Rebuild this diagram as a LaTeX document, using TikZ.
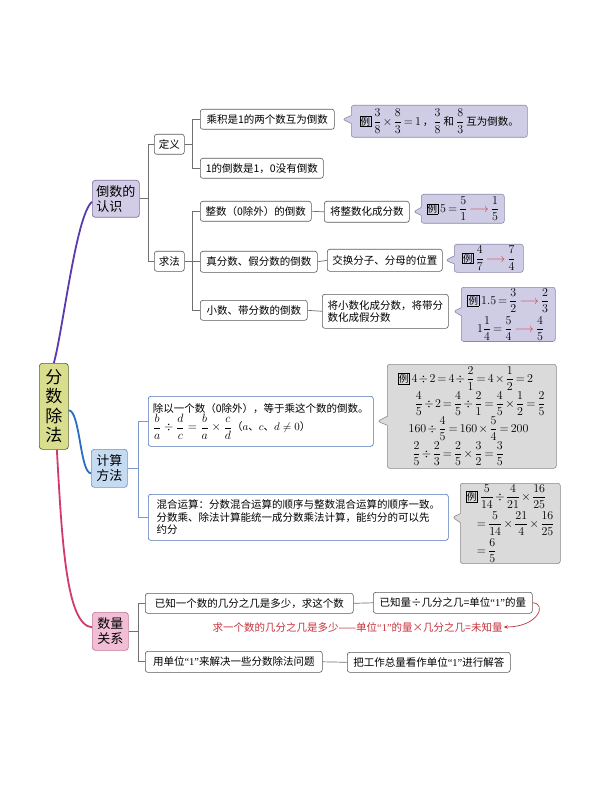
\documentclass[tikz,border=0pt]{standalone}
\usepackage{amsmath}
\usepackage{fontspec}
\setmainfont{Noto Sans CJK SC}
\newfontfamily\latinq{Liberation Serif}
\usetikzlibrary{shapes.callouts,arrows.meta}
\definecolor{mainfill}{HTML}{D8DE8E}
\definecolor{mainbd}{HTML}{5E6330}
\definecolor{dyfill}{HTML}{D2CCE6}
\definecolor{dybd}{HTML}{7E7498}
\definecolor{jsfill}{HTML}{C5DBF2}
\definecolor{jsbd}{HTML}{6B94C8}
\definecolor{slfill}{HTML}{F2BED6}
\definecolor{slbd}{HTML}{C27A98}
\definecolor{bx}{HTML}{5A5A5A}
\definecolor{bluebx}{HTML}{4D6FB8}
\definecolor{calL}{HTML}{CFCCE5}
\definecolor{calLbd}{HTML}{8C88A8}
\definecolor{calG}{HTML}{DADADA}
\definecolor{calGbd}{HTML}{8A8A8A}
\definecolor{purp}{HTML}{5A3AAE}
\definecolor{bluec}{HTML}{2B6CC4}
\definecolor{crim}{HTML}{D23A6E}
\definecolor{redt}{HTML}{C8323C}
\definecolor{arrred}{HTML}{E03030}
\definecolor{linegray}{HTML}{707070}
\definecolor{lineblue}{HTML}{7C98C8}
\newcommand{\lizi}{{\setlength{\fboxsep}{0.6pt}\setlength{\fboxrule}{0.5pt}\fbox{\fontsize{9.5}{9.5}\selectfont 例}}}
\newcommand{\rarr}{{\color{arrred}\longrightarrow}}
\newcommand{\qone}{{\latinq “1”}}
\newcommand{\cjks}{\fontsize{10.5}{12}\selectfont}
\newcommand{\tightmath}{\medmuskip=2mu\relax\thickmuskip=3mu\relax}
\newcommand{\calfont}{\fontsize{12}{14}\selectfont\tightmath}
\tikzset{
  base/.style={anchor=north west, rounded corners=2.5pt, line width=0.6pt, inner sep=1pt, align=center, font=\fontsize{10.5}{12.5}\selectfont},
  wbox/.style={base, draw=bx, fill=white},
  bbox/.style={base, draw=bluebx, fill=white, align=left, inner xsep=3pt},
  topic/.style={anchor=north west, rounded corners=3pt, line width=0.7pt, align=left, inner sep=2pt, font=\fontsize{13}{15}\selectfont},
  callL/.style={base, rectangle callout, draw=calLbd, fill=calL, callout pointer width=8pt, font=\calfont},
  callG/.style={base, rectangle callout, draw=calGbd, fill=calG, callout pointer width=9pt, font=\calfont},
  conn/.style={draw=linegray, line width=0.7pt},
  connb/.style={draw=lineblue, line width=0.7pt},
  branch/.style={line width=1.8pt},
}
\begin{document}
\begin{tikzpicture}[x=1pt,y=-1pt]
\fill[white] (0,0) rectangle (600,791);
\useasboundingbox (0,0) rectangle (600,791);

% main and topics
\node[topic, draw=mainbd, fill=mainfill, minimum width=29, minimum height=86, align=center, font=\fontsize{17}{19.5}\selectfont] (main) at (39,363) {分\\数\\除\\法};
\node[topic, draw=dybd, fill=dyfill, minimum width=47, minimum height=37] (dy) at (92,180) {倒数的\\认识};
\node[topic, draw=jsbd, fill=jsfill, minimum width=36, minimum height=38] (js) at (91,449) {计算\\方法};
\node[topic, draw=slbd, fill=slfill, minimum width=36, minimum height=38] (sl) at (92,612) {数量\\关系};

\draw[branch, purp] (main.north) .. controls (63,330) and (76,215) .. ([yshift=-3pt]dy.west);
\draw[branch, bluec] ([yshift=-4pt]main.east) .. controls (80,410) and (80,473) .. ([yshift=-5pt]js.west);
\draw[branch, crim] ([xshift=3pt]main.south) .. controls (62,540) and (66,625) .. ([yshift=4pt]sl.west);

% 倒数的认识
\node[wbox, minimum width=30, minimum height=20] (dingyi) at (154,134) {定义};
\node[wbox, minimum width=30, minimum height=20] (qiufa) at (154,251) {求法};
\node[wbox, minimum width=134, minimum height=20] (a1) at (200,109) {乘积是1的两个数互为倒数};
\node[wbox, minimum width=123, minimum height=20] (a2) at (200,158) {1的倒数是1，0没有倒数};
\node[wbox, minimum width=111, minimum height=20] (b1) at (200,201) {整数（0除外）的倒数};
\node[wbox, minimum width=117, minimum height=21] (b2) at (200,251) {真分数、假分数的倒数};
\node[wbox, minimum width=107, minimum height=20] (b3) at (200,300) {小数、带分数的倒数};
\node[wbox, minimum width=85, minimum height=21] (c1) at (324,201) {将整数化成分数};
\node[wbox, minimum width=115, minimum height=22] (c2) at (327,249) {交换分子、分母的位置};
\node[wbox, minimum width=126, minimum height=34, align=left] (c3) at (322,294) {将小数化成分数，将带分\\数化成假分数};

\draw[conn] (dy.east) -- ++(9,0) coordinate (j1) |- (dingyi.west);
\draw[conn] (j1) |- (qiufa.west);
\draw[conn] (dingyi.east) -- ++(8,0) coordinate (j2) |- (a1.west);
\draw[conn] (j2) |- (a2.west);
\draw[conn] (qiufa.east) -- ++(8,0) coordinate (j3) |- (b1.west);
\draw[conn] (j3) |- (b2.west);
\draw[conn] (j3) |- (b3.west);
\draw[conn] (b1.east) -- (c1.west);
\draw[conn] (b2.east) -- (c2.west);
\draw[conn] (b3.east) -- (c3.west);

\coordinate (p1) at ([xshift=8pt]a1.east);
\coordinate (p2) at ([xshift=4pt]c1.east);
\coordinate (p3) at ([xshift=3pt]c2.east);
\coordinate (p4) at ([xshift=5pt]c3.east);

\node[callL, minimum width=176, minimum height=32, callout absolute pointer=(p1)] (e1) at (351,105)
  {\lizi\,$\dfrac{3}{8}\times\dfrac{8}{3}=1$\,{\cjks，}$\dfrac{3}{8}$\,{\cjks 和}\,$\dfrac{8}{3}$\,{\cjks 互为倒数。}};
\node[callL, minimum width=83, minimum height=29, callout absolute pointer=(p2)] (e2) at (421,194)
  {\lizi\,$5=\dfrac{5}{1}\,\rarr\,\dfrac{1}{5}$};
\node[callL, minimum width=69, minimum height=28, callout absolute pointer=(p3)] (e3) at (454,244)
  {\lizi\,$\dfrac{4}{7}\,\rarr\,\dfrac{7}{4}$};
\node[callL, align=left, minimum width=94, minimum height=54, callout absolute pointer=(p4)] (e4) at (461,287)
  {\lizi\,$1.5=\dfrac{3}{2}\,\rarr\,\dfrac{2}{3}$\\[3pt]
   \hspace{0.8em}$1\dfrac{1}{4}=\dfrac{5}{4}\,\rarr\,\dfrac{4}{5}$};

% 计算方法
\node[bbox, minimum width=225, minimum height=50] (f1) at (148,396)
  {除以一个数（0除外），等于乘这个数的倒数。\\
   {\fontsize{11.5}{13}\selectfont$\dfrac{b}{a}\div\dfrac{d}{c}=\dfrac{b}{a}\times\dfrac{c}{d}$}（$a$、$c$、$d\neq0$）};
\node[bbox, minimum width=300, minimum height=46] (f2) at (148,494)
  {混合运算：分数混合运算的顺序与整数混合运算的顺序一致。\\
   分数乘、除法计算能统一成分数乘法计算，能约分的可以先\\
   约分};
\draw[connb] (js.east) -- ++(11,0) coordinate (j4) |- (f1.west);
\draw[connb] (j4) |- (f2.west);

\coordinate (p5) at ([xshift=4pt]f1.east);
\coordinate (p6) at ([xshift=4pt]f2.east);
\node[callG, align=left, minimum width=169, minimum height=104, callout absolute pointer=(p5)] (g1) at (387,364)
  {\lizi\,$4\div2=4\div\dfrac{2}{1}=4\times\dfrac{1}{2}=2$\\
   \hspace{1.4em}$\dfrac{4}{5}\div2=\dfrac{4}{5}\div\dfrac{2}{1}=\dfrac{4}{5}\times\dfrac{1}{2}=\dfrac{2}{5}$\\
   \hspace{0.9em}$160\div\dfrac{4}{5}=160\times\dfrac{5}{4}=200$\\
   \hspace{1.2em}$\dfrac{2}{5}\div\dfrac{2}{3}=\dfrac{2}{5}\times\dfrac{3}{2}=\dfrac{3}{5}$};
\node[callG, align=left, minimum width=100, minimum height=78, callout absolute pointer=(p6)] (g2) at (460,483)
  {\lizi\,$\dfrac{5}{14}\div\dfrac{4}{21}\times\dfrac{16}{25}$\\[2pt]
   \hspace{0.9em}$=\dfrac{5}{14}\times\dfrac{21}{4}\times\dfrac{16}{25}$\\[2pt]
   \hspace{0.9em}$=\dfrac{6}{5}$};

% 数量关系
\node[wbox, minimum width=208, minimum height=20] (h1) at (145,593) {已知一个数的几分之几是多少，求这个数};
\node[wbox, minimum width=159, minimum height=21] (h2) at (373,592) {已知量÷几分之几=单位\qone 的量};
\node[wbox, minimum width=177, minimum height=21] (h3) at (145,651) {用单位\qone 来解决一些分数除法问题};
\node[wbox, minimum width=163, minimum height=20] (h4) at (347,652) {把工作总量看作单位\qone 进行解答};
\node[inner sep=1pt, text=redt, font=\fontsize{10.5}{12}\selectfont] (rt) at (357.5,627) {求一个数的几分之几是多少——单位\qone 的量×几分之几=未知量};

\draw[conn] (sl.east) -- ++(10,0) coordinate (j5) |- (h1.west);
\draw[conn] (j5) |- (h3.west);
\draw[conn] (h1.east) -- (h2.west);
\draw[conn] (h3.east) -- (h4.west);
\draw[draw=redt, line width=0.7pt, -{Stealth[length=4pt,width=3.5pt]}] (h2.east) .. controls +(14,0) and +(36,0) .. (rt.east);
\end{tikzpicture}
\end{document}
